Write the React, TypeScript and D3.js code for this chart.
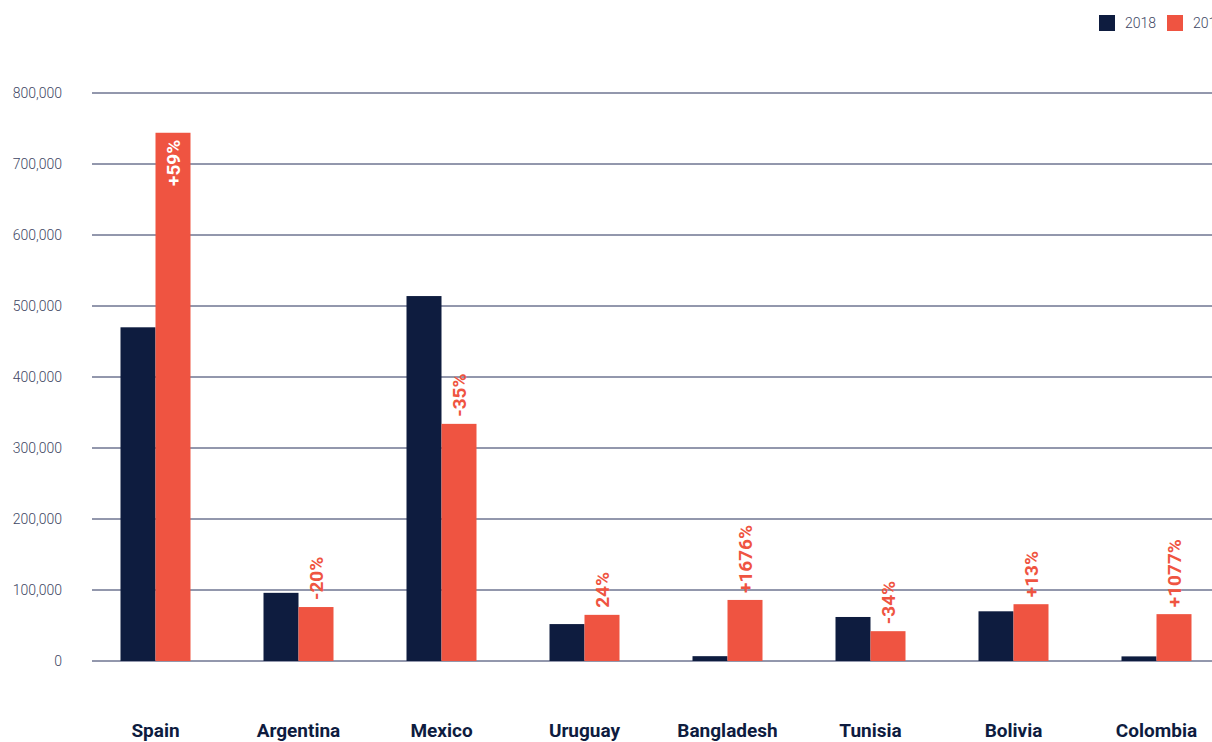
import React from "react";
import * as d3 from "d3";

const countries = ["Spain", "Argentina", "Mexico", "Uruguay", "Bangladesh", "Tunisia", "Bolivia", "Colombia"];
const series = ["2018", "2019"];
const values2018 = [470000, 96000, 514000, 52000, 6800, 62000, 70000, 6500];
const values2019 = [744000, 76000, 334000, 65000, 86000, 42000, 80000, 66000];
const changeLabels = ["+59%", "-20%", "-35%", "24%", "+1676%", "-34%", "+13%", "+1077%"];
const yTicks = [0, 100000, 200000, 300000, 400000, 500000, 600000, 700000, 800000];

const W = 1212;
const H = 742;
const NAVY = "#0e1c3f";
const RED = "#ef5441";
const FONT = "Roboto, 'DejaVu Sans', sans-serif";

export default function App() {
  const y = d3.scaleLinear().domain([0, 800000]).range([661, 93]);
  const x0 = d3.scaleBand<string>().domain(countries).range([84, 1228]);
  const groupW = 70;
  const x1 = d3.scaleBand<string>().domain(series).range([0, groupW]);
  const fmt = d3.format(",");
  const seriesVals = [values2018, values2019];
  const colors = [NAVY, RED];

  return (
    <div style={{ position: "absolute", left: 0, top: 0, width: W, height: H, overflow: "hidden", background: "#fff" }}>
      <svg width={W} height={H} style={{ display: "block", fontFamily: FONT }}>
        {yTicks.map((t) => (
          <g key={t}>
            <line x1={92} x2={W} y1={y(t)} y2={y(t)} stroke="#26305a" strokeWidth={1} />
            <text x={62} y={y(t)} dy="0.35em" textAnchor="end" fontSize={14} fill="#3e4663" fontWeight={300}>
              {fmt(t)}
            </text>
          </g>
        ))}
        {countries.map((c, i) => {
          const gx = (x0(c) as number) + (x0.bandwidth() - groupW) / 2;
          const redX = gx + (x1("2019") as number);
          const redTop = y(values2019[i]);
          const inside = redTop < 200;
          const lx = redX + x1.bandwidth() / 2;
          const ly = inside ? redTop + 7 : redTop - 7;
          return (
            <g key={c}>
              {series.map((s, si) => (
                <rect
                  key={s}
                  x={gx + (x1(s) as number)}
                  y={y(seriesVals[si][i])}
                  width={x1.bandwidth()}
                  height={661 - y(seriesVals[si][i])}
                  fill={colors[si]}
                />
              ))}
              <text
                transform={`translate(${lx},${ly}) rotate(-90)`}
                textAnchor={inside ? "end" : "start"}
                dy="0.35em"
                fontSize={19}
                fontWeight={700}
                fill={inside ? "#fff" : RED}
              >
                {changeLabels[i]}
              </text>
              <text x={gx + groupW / 2} y={737} textAnchor="middle" fontSize={19} fontWeight={700} fill={NAVY}>
                {c}
              </text>
            </g>
          );
        })}
        <g>
          <rect x={1099} y={15} width={16} height={16} fill={NAVY} />
          <text x={1125} y={23} dy="0.35em" fontSize={14} fill="#3e4663" fontWeight={300}>2018</text>
          <rect x={1167} y={15} width={16} height={16} fill={RED} />
          <text x={1193} y={23} dy="0.35em" fontSize={14} fill="#3e4663" fontWeight={300}>2019</text>
        </g>
      </svg>
    </div>
  );
}
